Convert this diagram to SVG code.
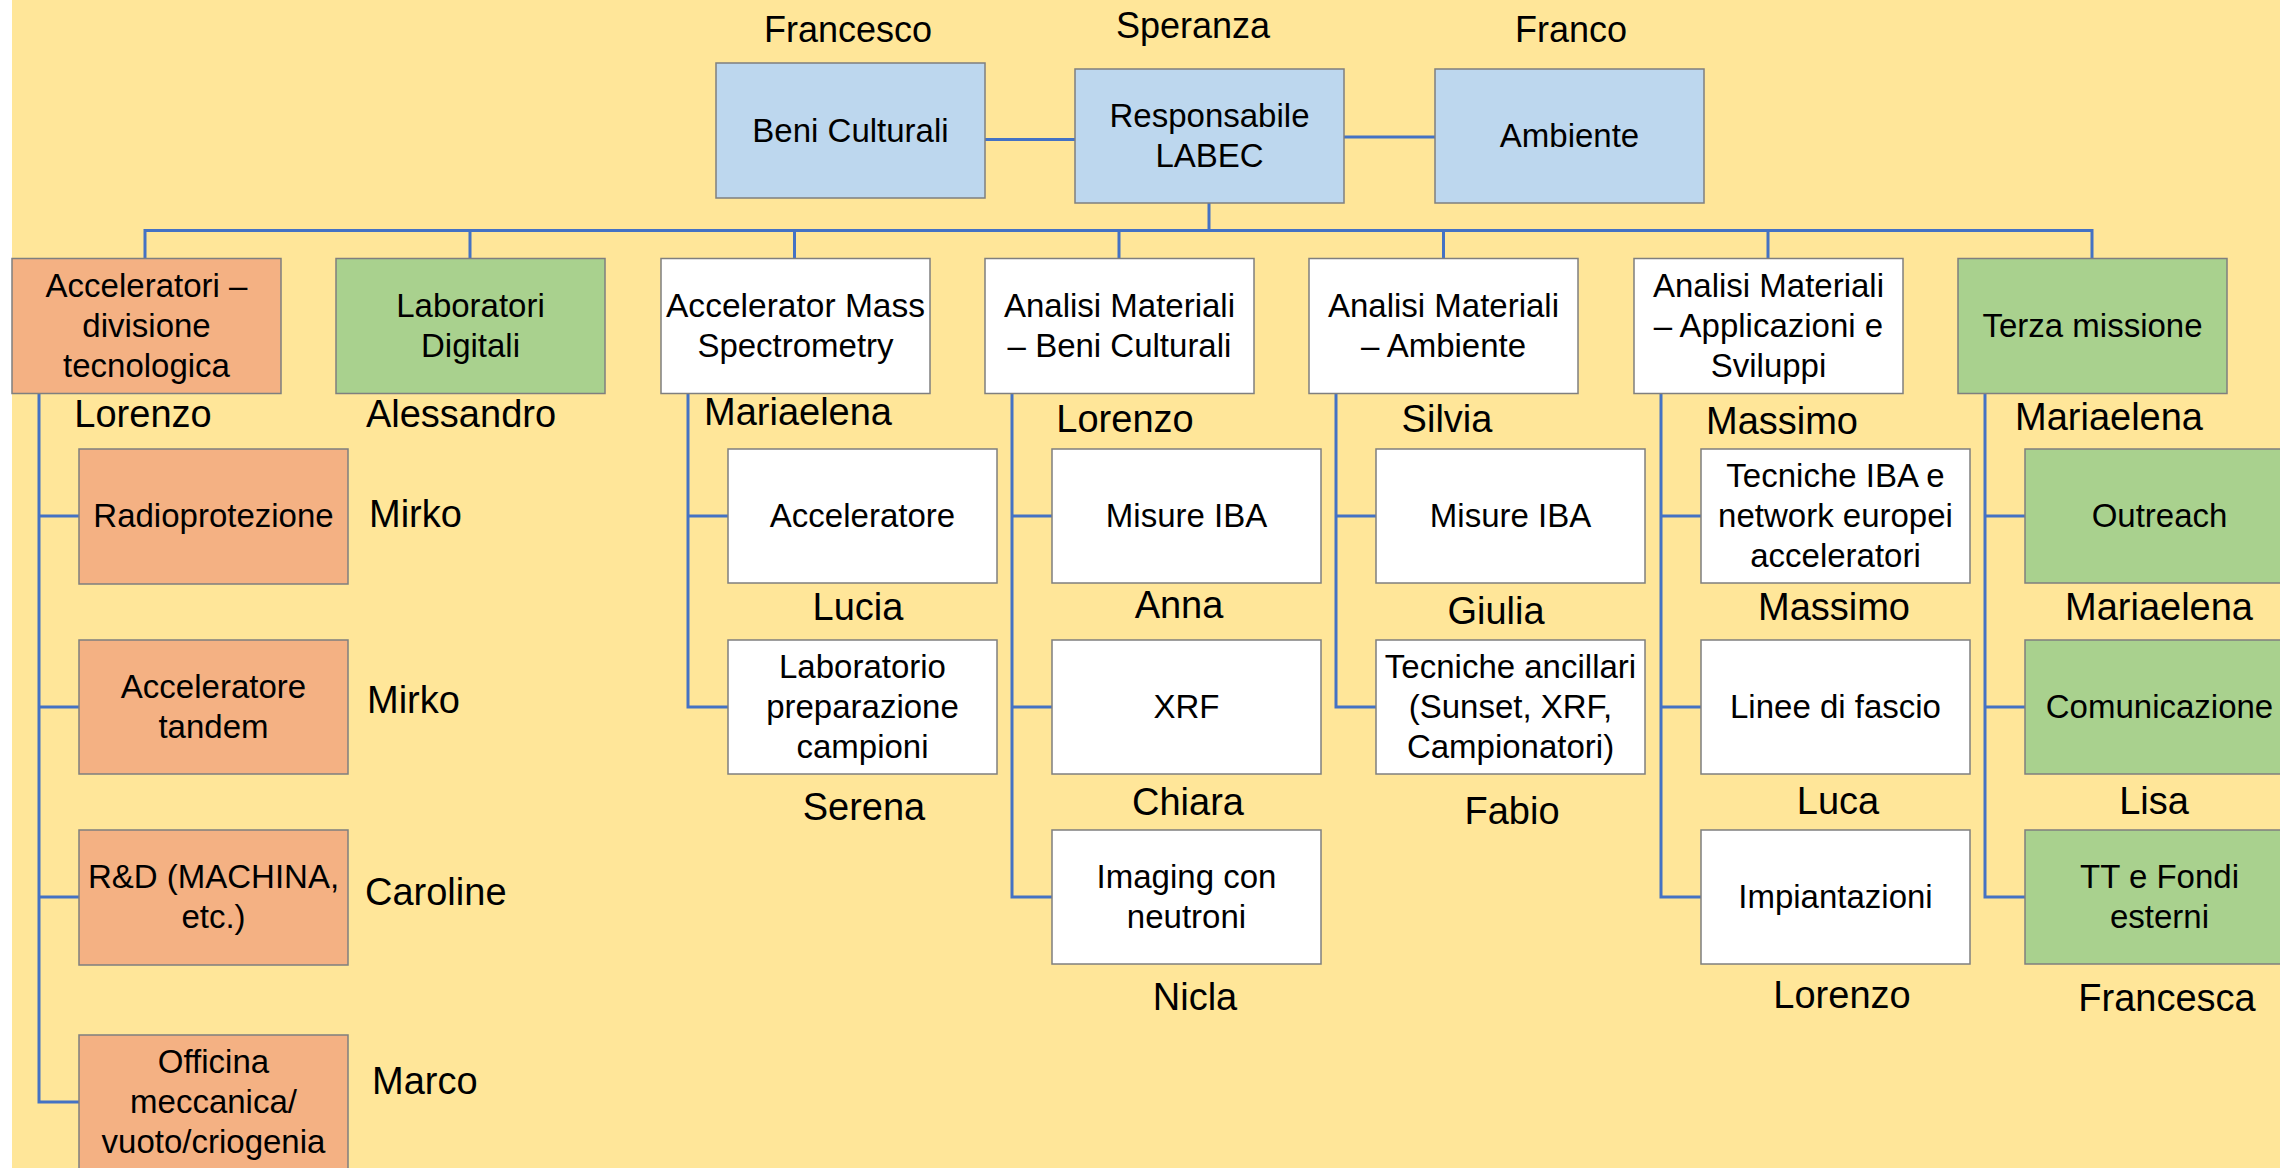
<svg xmlns="http://www.w3.org/2000/svg" width="2280" height="1168" viewBox="0 0 2280 1168">
<style>
.box{stroke:#7F7F7F;stroke-width:1.5}
.o{fill:#F4B183}.g{fill:#A9D18E}.b{fill:#BDD7EE}.w{fill:#FFFFFF}
text{font-family:"Liberation Sans",Arial,sans-serif;fill:#000;text-anchor:middle}
.t{font-size:33px}
.n{font-size:38px}
.tn{font-size:36px}
.s{text-anchor:start}
.conn{stroke:#4472C4;stroke-width:3;fill:none}
</style>
<rect x="0" y="0" width="2280" height="1168" fill="#FFFFFF"/>
<rect x="12" y="0" width="2268" height="1168" fill="#FFE699"/>

<g id="connectors" class="conn">
<path d="M985 139.5H1075"/>
<path d="M1344 137H1435"/>
<path d="M1209 203V230.5"/>
<path d="M145 258.5V230.5H2092V258.5"/>
<path d="M470 230.5V258.5M794.5 230.5V258.5M1119 230.5V258.5M1443.5 230.5V258.5M1768 230.5V258.5"/>
<path d="M39 393.5V1102H79M39 516H79M39 707H79M39 897H79"/>
<path d="M688 393.5V707H728M688 516H728"/>
<path d="M1012 393.5V897H1052M1012 516H1052M1012 707H1052"/>
<path d="M1336 393.5V707H1376M1336 516H1376"/>
<path d="M1661 393.5V897H1701M1661 516H1701M1661 707H1701"/>
<path d="M1985 393.5V897H2025M1985 516H2025M1985 707H2025"/>
</g>

<g id="labels-top">
<text class="tn" x="848" y="42">Francesco</text>
<text class="tn" x="1193" y="38">Speranza</text>
<text class="tn" x="1571" y="42">Franco</text>
</g>

<g id="beni-culturali"><rect class="box b" x="716" y="63" width="269" height="135"/><text class="t" x="850.5" y="141.5">Beni Culturali</text></g>
<g id="responsabile"><rect class="box b" x="1075" y="69" width="269" height="134"/><text class="t" x="1209.5" y="126.5">Responsabile</text><text class="t" x="1209.5" y="166.5">LABEC</text></g>
<g id="ambiente"><rect class="box b" x="1435" y="69" width="269" height="134"/><text class="t" x="1569.5" y="146.5">Ambiente</text></g>

<g id="acceleratori"><rect class="box o" x="12" y="258.5" width="269" height="135"/><text class="t" x="146.5" y="296.5">Acceleratori –</text><text class="t" x="146.5" y="336.5">divisione</text><text class="t" x="146.5" y="376.5">tecnologica</text><text class="n" x="143" y="427">Lorenzo</text></g>
<g id="laboratori-digitali"><rect class="box g" x="336" y="258.5" width="269" height="135"/><text class="t" x="470.5" y="316.5">Laboratori</text><text class="t" x="470.5" y="356.5">Digitali</text><text class="n" x="461" y="427">Alessandro</text></g>
<g id="ams"><rect class="box w" x="661" y="258.5" width="269" height="135"/><text class="t" x="795.5" y="316.5" textLength="259" lengthAdjust="spacingAndGlyphs">Accelerator Mass</text><text class="t" x="795.5" y="356.5">Spectrometry</text><text class="n" x="798" y="425">Mariaelena</text></g>
<g id="am-beni"><rect class="box w" x="985" y="258.5" width="269" height="135"/><text class="t" x="1119.5" y="316.5">Analisi Materiali</text><text class="t" x="1119.5" y="356.5">– Beni Culturali</text><text class="n" x="1125" y="432">Lorenzo</text></g>
<g id="am-ambiente"><rect class="box w" x="1309" y="258.5" width="269" height="135"/><text class="t" x="1443.5" y="316.5">Analisi Materiali</text><text class="t" x="1443.5" y="356.5">– Ambiente</text><text class="n" x="1447" y="432">Silvia</text></g>
<g id="am-applicazioni"><rect class="box w" x="1634" y="258.5" width="269" height="135"/><text class="t" x="1768.5" y="296.5">Analisi Materiali</text><text class="t" x="1768.5" y="336.5">– Applicazioni e</text><text class="t" x="1768.5" y="376.5">Sviluppi</text><text class="n" x="1782" y="434">Massimo</text></g>
<g id="terza-missione"><rect class="box g" x="1958" y="258.5" width="269" height="135"/><text class="t" x="2092.5" y="336.5">Terza missione</text><text class="n" x="2109" y="430">Mariaelena</text></g>

<g id="radioprotezione"><rect class="box o" x="79" y="449" width="269" height="135"/><text class="t" x="213.5" y="526.5">Radioprotezione</text><text class="n s" x="369" y="527">Mirko</text></g>
<g id="acceleratore-tandem"><rect class="box o" x="79" y="640" width="269" height="134"/><text class="t" x="213.5" y="697.5">Acceleratore</text><text class="t" x="213.5" y="737.5">tandem</text><text class="n s" x="367" y="713">Mirko</text></g>
<g id="rd-machina"><rect class="box o" x="79" y="830" width="269" height="135"/><text class="t" x="213.5" y="887.5">R&amp;D (MACHINA,</text><text class="t" x="213.5" y="927.5">etc.)</text><text class="n s" x="365" y="905">Caroline</text></g>
<g id="officina"><rect class="box o" x="79" y="1035" width="269" height="135"/><text class="t" x="213.5" y="1072.5">Officina</text><text class="t" x="213.5" y="1112.5">meccanica/</text><text class="t" x="213.5" y="1152.5">vuoto/criogenia</text><text class="n s" x="372" y="1094">Marco</text></g>

<g id="ams-acceleratore"><rect class="box w" x="728" y="449" width="269" height="134"/><text class="t" x="862.5" y="526.5">Acceleratore</text><text class="n" x="858" y="620">Lucia</text></g>
<g id="ams-laboratorio"><rect class="box w" x="728" y="640" width="269" height="134"/><text class="t" x="862.5" y="677.5">Laboratorio</text><text class="t" x="862.5" y="717.5">preparazione</text><text class="t" x="862.5" y="757.5">campioni</text><text class="n" x="864" y="820">Serena</text></g>

<g id="bc-misure-iba"><rect class="box w" x="1052" y="449" width="269" height="134"/><text class="t" x="1186.5" y="526.5">Misure IBA</text><text class="n" x="1179" y="618">Anna</text></g>
<g id="bc-xrf"><rect class="box w" x="1052" y="640" width="269" height="134"/><text class="t" x="1186.5" y="717.5">XRF</text><text class="n" x="1188" y="815">Chiara</text></g>
<g id="bc-imaging"><rect class="box w" x="1052" y="830" width="269" height="134"/><text class="t" x="1186.5" y="887.5">Imaging con</text><text class="t" x="1186.5" y="927.5">neutroni</text><text class="n" x="1195" y="1010">Nicla</text></g>

<g id="amb-misure-iba"><rect class="box w" x="1376" y="449" width="269" height="134"/><text class="t" x="1510.5" y="526.5">Misure IBA</text><text class="n" x="1496" y="624">Giulia</text></g>
<g id="amb-tecniche"><rect class="box w" x="1376" y="640" width="269" height="134"/><text class="t" x="1510.5" y="677.5">Tecniche ancillari</text><text class="t" x="1510.5" y="717.5">(Sunset, XRF,</text><text class="t" x="1510.5" y="757.5">Campionatori)</text><text class="n" x="1512" y="824">Fabio</text></g>

<g id="app-tecniche-iba"><rect class="box w" x="1701" y="449" width="269" height="134"/><text class="t" x="1835.5" y="486.5">Tecniche IBA e</text><text class="t" x="1835.5" y="526.5">network europei</text><text class="t" x="1835.5" y="566.5">acceleratori</text><text class="n" x="1834" y="620">Massimo</text></g>
<g id="app-linee"><rect class="box w" x="1701" y="640" width="269" height="134"/><text class="t" x="1835.5" y="717.5">Linee di fascio</text><text class="n" x="1838" y="814">Luca</text></g>
<g id="app-impiantazioni"><rect class="box w" x="1701" y="830" width="269" height="134"/><text class="t" x="1835.5" y="907.5">Impiantazioni</text><text class="n" x="1842" y="1008">Lorenzo</text></g>

<g id="outreach"><rect class="box g" x="2025" y="449" width="269" height="134"/><text class="t" x="2159.5" y="526.5">Outreach</text><text class="n" x="2159" y="620">Mariaelena</text></g>
<g id="comunicazione"><rect class="box g" x="2025" y="640" width="269" height="134"/><text class="t" x="2159.5" y="717.5">Comunicazione</text><text class="n" x="2154" y="814">Lisa</text></g>
<g id="tt-fondi"><rect class="box g" x="2025" y="830" width="269" height="134"/><text class="t" x="2159.5" y="887.5">TT e Fondi</text><text class="t" x="2159.5" y="927.5">esterni</text><text class="n" x="2167" y="1011">Francesca</text></g>
</svg>
